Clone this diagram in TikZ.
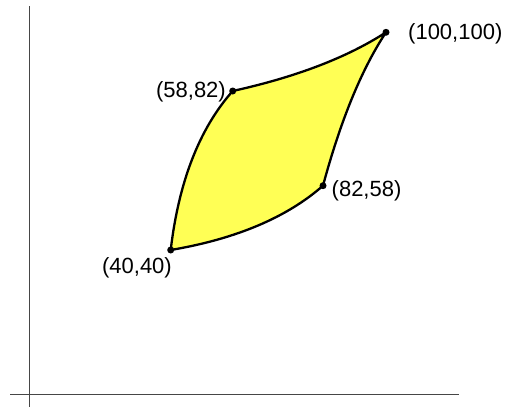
\documentclass[tikz,border=0pt]{standalone}
\usepackage{fontspec}
\setmainfont{Liberation Sans}
\definecolor{leaf}{RGB}{255,255,85}
\definecolor{axisgray}{RGB}{70,70,70}
\begin{document}
\begin{tikzpicture}[x=1pt,y=-1pt,
  dot/.style={circle,fill=black,inner sep=0pt,minimum size=7pt},
  lbl/.style={inner sep=0pt,font=\fontsize{22}{26}\selectfont},
  axisline/.style={draw=axisgray,line width=1.6pt},
  edge/.style={draw=black,line width=2.3pt,fill=leaf,line join=round}]
\useasboundingbox (0,0) rectangle (509,407);
% axes
\coordinate (ytop) at (29.5,6);
\coordinate (ybot) at (29.5,407);
\coordinate (xl) at (10,394.5);
\coordinate (xr) at (459,394.5);
\draw[axisline] (ytop) -- (ybot);
\draw[axisline] (xl) -- (xr);
% corner points
\coordinate (A) at (170.7,250);
\coordinate (B) at (232.7,91);
\coordinate (C) at (386,32.3);
\coordinate (D) at (323,185.7);
\path[edge] (A) .. controls (178.8,181.3) and (199.6,128.3) .. (B)
  .. controls (296.2,77) and (347.3,57.4) .. (C)
  .. controls (361.6,69.2) and (340.6,120.4) .. (D)
  .. controls (286.9,217.4) and (236.2,238.9) .. (A) -- cycle;
\node[dot] (dA) at (A) {};
\node[dot] (dB) at (B) {};
\node[dot] (dC) at (C) {};
\node[dot] (dD) at (D) {};
\node[lbl,anchor=east] (lA) at (172,268) {(40,40)};
\node[lbl,anchor=east] (lB) at (226,92) {(58,82)};
\node[lbl,anchor=west] (lC) at (408,34) {(100,100)};
\node[lbl,anchor=west] (lD) at (331.5,191) {(82,58)};
\end{tikzpicture}
\end{document}
